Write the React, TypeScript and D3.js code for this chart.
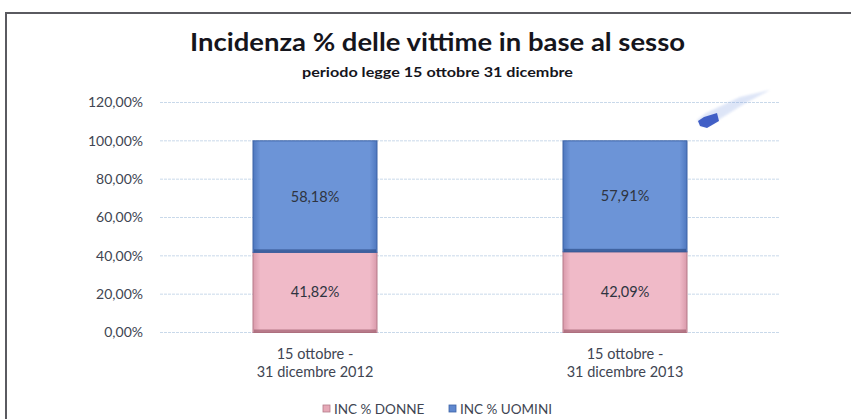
import { useEffect, useRef } from 'react'
import * as d3 from 'd3'

const categories = ['15 ottobre -|31 dicembre 2012', '15 ottobre -|31 dicembre 2013']
const donne = [41.82, 42.09]
const uomini = [58.18, 57.91]
const seriesNames = ['INC % DONNE', 'INC % UOMINI']
const yTicks = [0, 20, 40, 60, 80, 100, 120]

const W = 851
const H = 419
const FONT = 'Lato, "Open Sans", sans-serif'

const fmt = (v: number) => v.toFixed(2).replace('.', ',') + '%'

export default function App() {
  const svgRef = useRef<SVGSVGElement>(null)

  useEffect(() => {
    const svg = d3.select(svgRef.current)
    svg.selectAll('*').remove()
    svg.attr('width', W).attr('height', H).attr('viewBox', `0 0 ${W} ${H}`)

    const defs = svg.append('defs')
    const grad = (id: string, edge: string, mid: string) => {
      const g = defs.append('linearGradient').attr('id', id).attr('x1', 0).attr('x2', 1).attr('y1', 0).attr('y2', 0)
      g.append('stop').attr('offset', '0%').attr('stop-color', edge)
      g.append('stop').attr('offset', '6%').attr('stop-color', mid)
      g.append('stop').attr('offset', '94%').attr('stop-color', mid)
      g.append('stop').attr('offset', '100%').attr('stop-color', edge)
    }
    grad('gPink', '#d99aab', '#f0bac8')
    grad('gBlue', '#4f78bf', '#6c94d7')
    const blur = defs.append('filter').attr('id', 'soft')
    blur.append('feGaussianBlur').attr('stdDeviation', 1.2)

    svg.append('rect').attr('width', W).attr('height', H).attr('fill', '#fff')

    // frame
    svg.append('path')
      .attr('d', `M6,${H + 5} V13 H${W + 5}`)
      .attr('fill', 'none')
      .attr('stroke', '#5a5a60')
      .attr('stroke-width', 2)

    const x = d3.scaleBand().domain(categories).range([160, 780]).padding(0)
    const y = d3.scaleLinear().domain([0, 120]).range([332.5, 102.5])
    const barW = x.bandwidth() * 0.4

    // gridlines
    svg.append('g')
      .selectAll('line')
      .data(yTicks)
      .join('line')
      .attr('x1', 160)
      .attr('x2', 780)
      .attr('y1', (d) => y(d))
      .attr('y2', (d) => y(d))
      .attr('stroke', '#c9d9ea')
      .attr('stroke-width', 1)
      .attr('stroke-dasharray', '3,1')

    // y axis labels
    svg.append('g')
      .selectAll('text')
      .data(yTicks)
      .join('text')
      .attr('x', 143)
      .attr('y', (d) => y(d))
      .attr('dy', '0.35em')
      .attr('text-anchor', 'end')
      .attr('font-family', FONT)
      .attr('font-size', 14)
      .attr('fill', '#404552')
      .text((d) => fmt(d))

    const stacks = [
      { name: seriesNames[0], vals: donne, base: donne.map(() => 0), fill: 'url(#gPink)', stroke: '#b57a89', shadow: '#a0606f' },
      { name: seriesNames[1], vals: uomini, base: donne, fill: 'url(#gBlue)', stroke: '#3c63a6', shadow: '#2e4f8a' },
    ]

    stacks.forEach((s) => {
      const g = svg.append('g')
      categories.forEach((c, i) => {
        const x0 = (x(c) as number) + (x.bandwidth() - barW) / 2
        const yTop = y(s.base[i] + s.vals[i])
        const yBot = y(s.base[i])
        g.append('rect')
          .attr('x', x0)
          .attr('y', yTop)
          .attr('width', barW)
          .attr('height', yBot - yTop)
          .attr('fill', s.fill)
          .attr('stroke', s.stroke)
          .attr('stroke-width', 1)
        // bevel bottom edge
        g.append('rect')
          .attr('x', x0 + 1)
          .attr('y', yBot - 3)
          .attr('width', barW - 2)
          .attr('height', 3)
          .attr('fill', s.shadow)
          .attr('opacity', 0.7)
        g.append('text')
          .attr('x', x0 + barW / 2)
          .attr('y', (yTop + yBot) / 2)
          .attr('dy', '0.35em')
          .attr('text-anchor', 'middle')
          .attr('font-family', FONT)
          .attr('font-size', 14.5)
          .attr('fill', '#2f3440')
          .text(fmt(s.vals[i]))
      })
    })

    // category labels
    const cat = svg.append('g')
    categories.forEach((c) => {
      const cx = (x(c) as number) + x.bandwidth() / 2
      c.split('|').forEach((line, j) => {
        cat.append('text')
          .attr('x', cx)
          .attr('y', 359 + j * 18)
          .attr('text-anchor', 'middle')
          .attr('font-family', FONT)
          .attr('font-size', 14.5)
          .attr('fill', '#404552')
          .text(line)
      })
    })

    // title
    svg.append('text')
      .attr('x', 437.5)
      .attr('y', 51)
      .attr('text-anchor', 'middle')
      .attr('font-family', FONT)
      .attr('font-weight', 'bold')
      .attr('font-size', 25)
      .attr('fill', '#15151c')
      .attr('textLength', 495)
      .attr('lengthAdjust', 'spacingAndGlyphs')
      .text('Incidenza % delle vittime in base al sesso')

    svg.append('text')
      .attr('x', 437.5)
      .attr('y', 77)
      .attr('text-anchor', 'middle')
      .attr('font-family', FONT)
      .attr('font-weight', 'bold')
      .attr('font-size', 13)
      .attr('fill', '#15151c')
      .attr('textLength', 271)
      .attr('lengthAdjust', 'spacingAndGlyphs')
      .text('periodo legge 15 ottobre  31 dicembre')

    // legend
    const legend = [
      { label: seriesNames[0], x: 323, color: '#e6a9b7', stroke: '#b57a89' },
      { label: seriesNames[1], x: 449, color: '#5f88cf', stroke: '#3c63a6' },
    ]
    legend.forEach((l) => {
      svg.append('rect')
        .attr('x', l.x)
        .attr('y', 405)
        .attr('width', 7)
        .attr('height', 7)
        .attr('fill', l.color)
        .attr('stroke', l.stroke)
        .attr('stroke-width', 0.8)
      svg.append('text')
        .attr('x', l.x + 11)
        .attr('y', 413.5)
        .attr('font-family', FONT)
        .attr('font-size', 13.5)
        .attr('fill', '#404552')
        .text(l.label)
    })

    // scan smudge near top right
    svg.append('path')
      .attr('d', 'M697,120 L706,113 L740,97 L770,90 L744,104 L712,124 L702,127 Z')
      .attr('fill', '#7d9be0')
      .attr('opacity', 0.25)
      .attr('filter', 'url(#soft)')
    svg.append('path')
      .attr('d', 'M698,121 L704,117 L717,113 L719,121 L707,128 L700,126 Z')
      .attr('fill', '#3050c0')
      .attr('opacity', 0.9)
  }, [])

  return <svg ref={svgRef} style={{ display: 'block', position: 'absolute', left: 0, top: 0 }} />
}
